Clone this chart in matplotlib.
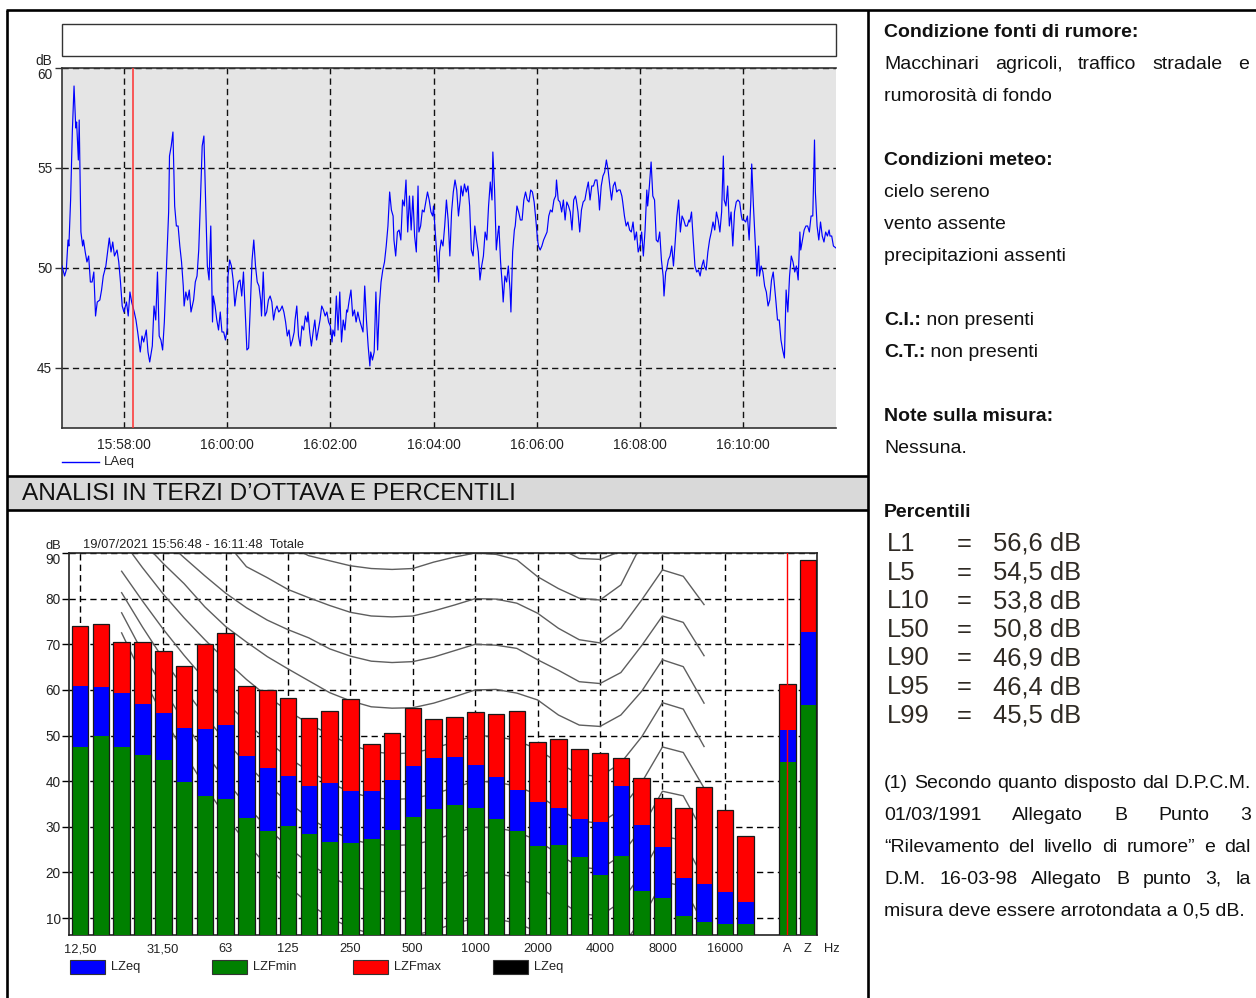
import matplotlib
matplotlib.use("Agg")
import matplotlib.pyplot as plt
from matplotlib.patches import Rectangle
from matplotlib.ticker import FuncFormatter
from datetime import datetime, timedelta

plt.rcParams['font.family'] = ['Liberation Sans', 'DejaVu Sans']
NARROW = ['Liberation Sans', 'DejaVu Sans']

# ---------------- LAeq time history (seconds after start) ----------------
start_clock = "15:56:48"
laeq_t = [
    0, 3, 5, 7, 8, 10, 12, 14, 16, 17, 19, 20, 22, 24, 25, 27, 29, 31, 33, 35,
    37, 39, 41, 44, 46, 48, 51, 53, 55, 57, 59, 61, 64, 66, 68, 70, 72, 75, 77, 79,
    81, 84, 86, 88, 91, 93, 95, 98, 100, 102, 105, 107, 109, 111, 113, 115, 117, 119, 122, 124,
    125, 127, 129, 131, 133, 135, 137, 139, 141, 142, 144, 146, 148, 150, 153, 155, 157, 159, 161, 163,
    165, 167, 169, 171, 173, 175, 176, 178, 180, 182, 184, 186, 188, 190, 192, 193, 195, 197, 199, 201,
    203, 205, 207, 209, 211, 213, 215, 217, 219, 221, 223,
    225, 227, 229, 231, 232, 234, 236, 238, 240, 242, 244, 246, 248, 250, 252, 254, 256, 258, 260, 262,
    264, 266, 268, 270, 271, 273, 275, 277, 279, 281, 283, 285, 286, 288, 290, 292, 294, 296, 298, 300,
    302, 304, 306, 308, 310, 312, 314, 315, 317, 319, 321, 323, 325, 327, 329, 331, 332, 334, 336, 338,
    340, 342, 344, 346, 348, 350, 352, 354, 356, 358, 359, 361, 363, 365, 367, 369, 371, 373, 375, 377,
    379, 381, 383, 385, 386, 388, 390, 392, 394, 396, 398, 400, 402, 404, 406, 408, 410, 412, 414, 415,
    417, 419, 421, 423, 425, 427, 429,
    431, 432, 434, 436, 438, 439, 441, 443, 445, 447, 449, 451, 453, 455, 457, 459, 461, 463, 464, 466,
    468, 470, 472, 474, 476, 478, 480, 482, 484, 486, 488, 490, 492, 494, 496, 498, 500, 501, 503, 505,
    507, 508, 510, 512, 513, 515, 517, 519, 521, 522, 524, 526, 527, 529, 531, 533, 535, 537, 539, 541,
    543, 545, 547, 549, 551, 553, 554, 556, 558, 560, 562, 564, 566, 568, 570, 572, 574, 575, 577, 579,
    581, 583, 585, 587, 589, 591, 593, 595, 597, 598, 600, 602, 604, 606, 608, 610, 612, 614, 616, 618,
    620, 622, 624, 625, 627, 629, 631, 633, 635, 637, 639, 641, 643, 645, 647, 649, 651, 652, 654, 656,
    658, 660, 662, 664, 666, 668, 670, 672, 674, 676, 678, 680, 681, 683, 685, 687, 689, 691, 693, 695,
    697, 699, 700, 702, 703, 705, 707, 709, 711, 713, 715, 717, 719, 721, 723, 725, 727, 729, 730, 732,
    734, 736, 738, 740, 742, 744, 746, 747, 749, 751, 753, 755, 757, 759, 761, 763, 765, 767, 769, 770,
    772, 774, 776, 778, 780, 782, 784, 786, 788, 790, 791, 793, 795, 797, 799, 801, 802, 804, 806, 808,
    810, 811, 813, 815, 817, 819, 821, 823, 825, 827, 829, 830, 832, 834, 836, 838, 840, 842, 844, 846,
    848, 850, 852, 854, 856, 858, 859, 861, 863, 865, 867, 869, 871, 873, 875, 876, 878, 880, 882, 884,
    886, 888, 890, 892, 893, 895, 897, 900,
]
laeq_db = [
    50.1, 49.6, 49.9, 51.4, 51.1, 53.4, 56.8, 59.1, 57.0, 57.3, 55.4, 57.4, 51.8, 51.1, 51.4, 50.8, 50.3, 50.6, 49.3, 49.3,
    49.8, 47.6, 48.3, 48.4, 48.9, 49.6, 50.1, 50.8, 51.5, 50.8, 51.3, 50.6, 50.9, 50.3, 49.3, 48.1, 47.8, 48.3, 47.6, 48.8,
    48.3, 47.8, 47.4, 46.8, 45.8, 46.6, 46.3, 46.9, 45.8, 45.3, 46.1, 48.1, 47.4, 49.8, 46.6, 46.4, 45.9, 47.3, 50.6, 52.8,
    55.6, 56.1, 56.8, 53.1, 52.1, 52.1, 51.1, 50.3, 49.1, 48.1, 48.8, 48.4, 48.9, 47.8, 48.4, 49.3, 49.6, 50.9, 53.4, 56.1,
    56.6, 53.4, 50.1, 49.4, 52.1, 47.3, 48.6, 48.1, 47.4, 46.9, 47.8, 46.8, 46.8, 46.4, 46.9, 49.6, 50.4, 50.1, 49.4, 48.1,
    48.8, 49.3, 49.4, 48.6, 49.8, 47.9, 45.9, 46.0, 48.1, 50.4, 51.4,
    50.1, 49.3, 49.1, 48.4, 47.6, 49.8, 47.6, 47.8, 48.4, 48.6, 48.3, 47.4, 47.9, 48.1, 47.8, 47.9, 48.1, 47.8, 47.3, 46.6,
    46.9, 46.1, 46.4, 46.8, 47.4, 48.1, 46.6, 46.1, 47.1, 46.9, 47.6, 47.3, 47.8, 46.8, 46.1, 46.8, 47.4, 46.4, 46.9, 47.4,
    48.1, 47.9, 47.6, 47.8, 47.3, 47.1, 46.3, 46.9, 46.6, 48.6, 46.9, 48.8, 46.3, 47.4, 46.9, 47.9, 47.8, 48.4, 48.9, 47.6,
    47.9, 47.3, 47.8, 47.4, 47.1, 46.8, 49.1, 47.4, 46.1, 45.1, 45.8, 45.4, 45.8, 48.8, 45.9, 48.1, 49.3, 49.9, 50.3, 51.1,
    52.1, 53.8, 52.9, 52.6, 51.4, 50.6, 51.8, 51.9, 51.4, 53.4, 53.1, 54.4, 51.8, 53.6, 51.9, 53.6, 51.6, 50.8, 54.1, 51.8,
    52.1, 52.9, 52.8, 53.3, 53.8, 53.4, 52.8,
    52.6, 53.1, 51.8, 50.6, 49.3, 50.8, 51.4, 51.1, 52.1, 53.4, 52.4, 50.6, 52.8, 53.8, 54.4, 53.9, 52.6, 53.4, 54.1, 53.6,
    54.2, 53.8, 54.1, 53.1, 50.9, 50.6, 52.1, 51.4, 50.8, 49.4, 50.1, 50.6, 51.8, 51.4, 53.1, 54.3, 53.4, 55.8, 53.9, 50.9,
    51.8, 52.1, 50.3, 49.1, 48.3, 49.6, 49.3, 50.1, 48.9, 47.8, 50.8, 51.9, 52.1, 53.1, 52.8, 52.4, 52.4, 53.4, 53.8, 53.4,
    53.3, 53.9, 53.8, 53.3, 52.4, 51.4, 51.1, 50.9, 51.1, 51.4, 51.6, 51.8, 52.6, 52.9, 52.8, 53.4, 53.6, 54.4, 53.4, 53.3,
    52.8, 53.4, 52.4, 53.3, 53.1, 52.8, 51.9, 53.4, 53.6, 53.4, 52.8, 51.8, 52.9, 53.3, 53.4, 53.9, 54.3, 53.4, 54.1, 54.1,
    54.4, 54.4, 53.6, 52.9, 54.1, 54.6, 54.8, 55.4, 54.9, 54.1, 53.4, 54.1, 54.3, 53.8, 53.9, 53.9, 53.6, 53.3, 52.6, 52.1,
    52.3, 51.9, 51.8, 52.3, 51.4, 51.8, 50.8, 51.1, 51.8, 50.6, 51.9, 53.9, 53.1, 54.1, 55.3, 53.6, 53.4, 51.4, 51.3, 51.8,
    50.4, 49.6, 48.6, 49.8, 49.9, 50.4, 50.6, 51.1, 50.1, 51.3, 52.6, 53.4, 51.8, 52.6, 52.4, 52.1, 52.1, 52.4, 52.3, 52.8,
    51.4, 50.1, 49.8, 49.9, 49.6, 50.1, 50.4, 50.1, 49.9, 50.8, 51.4, 51.8, 52.3, 51.9, 52.8, 52.4, 51.8, 52.8, 55.6, 53.4,
    53.1, 54.1, 52.1, 52.8, 51.1, 52.8, 53.3, 53.4, 53.3, 52.6, 52.4, 52.4, 52.3, 52.6, 51.4, 53.4, 55.2, 53.1, 51.3, 49.6,
    51.1, 49.6, 50.1, 49.8, 49.1, 48.8, 48.1, 48.4, 49.4, 49.8, 48.9, 48.4, 47.4, 47.4, 46.4, 45.9, 45.5, 48.9, 47.8, 49.6,
    50.6, 50.3, 49.8, 50.1, 49.4, 51.8, 50.9, 51.4, 51.9, 52.1, 52.1, 51.8, 52.6, 52.6, 56.4, 53.8, 52.1, 51.4, 52.3, 51.6,
    51.3, 51.8, 51.6, 51.9, 51.6, 51.6, 51.1, 51.0,
]
cursor_t = 82

# ---------------- third-octave spectrum ----------------
band_labels = ['12,50', '16', '20', '25', '31,50', '40', '50', '63', '80', '100', '125', '160',
               '200', '250', '315', '400', '500', '630', '800', '1000', '1250', '1600', '2000',
               '2500', '3150', '4000', '5000', '6300', '8000', '10000', '12500', '16000', '20000',
               'A', 'Z']
shown_labels = ['12,50', '31,50', '63', '125', '250', '500', '1000', '2000', '4000', '8000',
                '16000', 'A', 'Z']
lzfmax = [73.9, 74.4, 70.5, 70.5, 68.5, 65.3, 70.0, 72.4, 60.8, 59.9, 58.3, 53.8, 55.4, 58.0,
          48.1, 50.6, 56.1, 53.6, 54.1, 55.2, 54.7, 55.4, 48.5, 49.3, 47.1, 46.1, 45.0, 40.6,
          36.4, 34.1, 38.7, 33.7, 28.1, 61.3, 88.5]
lzeq = [60.9, 60.7, 59.3, 57.0, 55.0, 51.6, 51.4, 52.3, 45.6, 42.8, 41.2, 39.0, 39.5, 37.9,
        37.9, 40.3, 43.3, 45.1, 45.2, 43.5, 40.9, 38.1, 35.4, 34.2, 31.7, 31.1, 39.0, 30.5,
        25.6, 18.8, 17.5, 15.7, 13.6, 51.2, 72.7]
lzfmin = [47.6, 49.8, 47.4, 45.8, 44.7, 39.9, 36.8, 36.0, 32.0, 29.1, 30.1, 28.4, 26.7, 26.5,
          27.4, 29.2, 32.2, 33.8, 34.7, 34.2, 31.8, 29.1, 25.9, 26.1, 23.4, 19.5, 23.7, 15.9,
          14.3, 10.5, 9.1, 8.7, 8.8, 44.1, 56.7]

# equal-loudness curves, 20 Hz .. 12500 Hz
curve_first, curve_last = '20', '12500'
phon_10 = [72.5, 63.0, 54.2, 46.2, 38.9, 32.3, 26.5, 21.4, 17.0, 13.2, 10.1, 7.9, 6.6, 6.0, 6.2,
           7.3, 8.8, 10.0, 9.8, 8.9, 7.0, 4.0, 1.0, 0.5, 3.5, 9.7, 18.0, 17.0, 8.5]
phon_20 = [76.9, 68.3, 60.3, 53.0, 46.3, 40.2, 34.7, 29.8, 25.6, 22.0, 19.1, 17.0, 16.0, 15.7,
           16.0, 17.0, 18.5, 20.0, 19.8, 18.9, 17.0, 14.0, 11.0, 10.5, 13.5, 19.7, 28.0, 27.0, 18.5]
phon_30 = [81.3, 73.8, 66.8, 60.3, 54.3, 48.8, 43.8, 39.3, 35.4, 32.0, 29.3, 27.3, 26.2, 25.9,
           26.1, 27.1, 28.6, 30.0, 29.8, 28.9, 27.0, 24.0, 21.2, 20.7, 23.7, 29.7, 37.8, 36.8, 28.5]
phon_40 = [86.0, 79.5, 73.3, 67.6, 62.3, 57.4, 52.9, 48.8, 45.2, 42.2, 39.7, 37.6, 36.4, 36.0,
           36.2, 37.2, 38.6, 40.0, 39.8, 38.9, 37.0, 34.0, 31.3, 30.8, 33.8, 39.7, 47.5, 46.3, 38.5]
phon_50 = [93.0, 86.8, 81.0, 75.8, 71.0, 66.5, 62.3, 58.6, 55.4, 52.6, 50.2, 48.0, 46.5, 46.0,
           46.2, 47.2, 48.6, 50.0, 49.8, 48.9, 47.0, 44.0, 41.5, 41.0, 44.0, 49.7, 57.2, 55.8, 47.6]
phon_60 = [100.0, 92.5, 87.7, 83.3, 78.2, 73.9, 70.5, 67.3, 64.6, 62.0, 59.4, 57.6, 56.3, 56.0,
           56.1, 57.1, 58.5, 60.0, 60.1, 59.3, 57.8, 54.5, 52.3, 52.0, 54.5, 59.7, 66.6, 65.1, 57.1]
phon_70 = [110.0, 100.0, 93.2, 89.0, 85.0, 81.2, 78.0, 75.3, 73.2, 71.4, 69.0, 67.4, 66.3, 66.0,
           66.2, 67.2, 68.6, 70.0, 69.8, 69.1, 66.6, 64.3, 61.8, 61.4, 63.8, 69.7, 76.2, 74.8, 67.5]
phon_80 = [120.0, 112.0, 105.0, 99.0, 95.5, 92.5, 87.0, 84.6, 82.0, 80.2, 78.5, 77.0, 76.2, 76.0,
           76.2, 77.3, 78.6, 80.0, 79.9, 79.0, 76.8, 73.5, 71.0, 70.3, 73.5, 79.7, 86.3, 84.9, 78.7]
phon_90 = [130.0, 125.0, 120.0, 115.0, 110.0, 105.0, 100.0, 96.0, 91.6, 89.4, 88.3, 87.2, 86.6,
           86.4, 86.6, 88.0, 89.1, 90.0, 89.7, 88.5, 84.8, 82.2, 80.1, 79.7, 83.0, 92.0, 97.0, 96.0, 92.0]
phon_100 = [140.0, 135.0, 130.0, 125.0, 120.0, 115.0, 110.0, 106.0, 102.0, 99.5, 98.3, 97.2, 96.6,
            96.4, 96.6, 98.0, 99.1, 100.0, 99.7, 98.5, 94.8, 91.2, 88.8, 88.6, 90.4, 101.0, 107.0, 106.0, 102.0]
loudness_curves = [phon_10, phon_20, phon_30, phon_40, phon_50, phon_60, phon_70, phon_80, phon_90, phon_100]

# ---------------- percentiles ----------------
perc_names = ['L1', 'L5', 'L10', 'L50', 'L90', 'L95', 'L99']
perc_values = [56.6, 54.5, 53.8, 50.8, 46.9, 46.4, 45.5]

W, H = 1256, 998
fig = plt.figure(figsize=(W / 100, H / 100), dpi=100)
renderer = fig.canvas.get_renderer()

# page layer, one unit = one pixel, y downwards
pg = fig.add_axes([0, 0, 1, 1])
pg.set_xlim(0, W)
pg.set_ylim(H, 0)
pg.axis('off')


def text_width(txt, **kw):
    t = pg.text(0, 0, txt, **kw)
    w = t.get_window_extent(renderer).width
    t.remove()
    return w


def fit_size(txt, target, family, weight='normal', base=12.0):
    return base * target / text_width(txt, fontsize=base, family=family, weight=weight)


def justified(words, x0, x1, y, **kw):
    objs = [pg.text(x0, y, w, va='baseline', **kw) for w in words]
    widths = [o.get_window_extent(renderer).width for o in objs]
    gap = (x1 - x0 - sum(widths)) / (len(words) - 1)
    x = x0
    for o, w in zip(objs, widths):
        o.set_x(x)
        x += w + gap


# table frame
frame_lw = 1.9
pg.add_patch(Rectangle((7, 476), 861, 34, facecolor='#d9d9d9', edgecolor='none'))
pg.plot([6, W], [10, 10], color='k', lw=frame_lw, solid_capstyle='butt')
pg.plot([7, 7], [10, H], color='k', lw=frame_lw, solid_capstyle='butt')
pg.plot([868, 868], [10, H], color='k', lw=frame_lw, solid_capstyle='butt')
pg.plot([7, 868], [476, 476], color='k', lw=frame_lw, solid_capstyle='butt')
pg.plot([7, 868], [510, 510], color='k', lw=frame_lw, solid_capstyle='butt')

hdr = 'ANALISI IN TERZI D\u2019OTTAVA E PERCENTILI'
pg.text(22, 494, hdr, va='center', family=NARROW, color='#111111',
        fontsize=fit_size(hdr, 495, NARROW))

# ---------------- top chart: LAeq vs time ----------------
pg.add_patch(Rectangle((62, 24), 774, 32, facecolor='white', edgecolor='#333333', lw=1))

t0 = datetime.strptime(start_clock, "%H:%M:%S")
ax1 = fig.add_axes([62 / W, 1 - 428 / H, 774 / W, 360 / H])
ax1.set_facecolor('#e5e5e5')
ax1.plot(laeq_t, laeq_db, color='#0000ff', lw=0.85, zorder=3)
ax1.axvline(cursor_t, color='#ff3030', lw=1.1, zorder=4)
ax1.set_xlim(0, 900)
ax1.set_ylim(42, 60)
ax1.set_xticks(range(72, 900, 120))
ax1.xaxis.set_major_formatter(FuncFormatter(
    lambda v, p: (t0 + timedelta(seconds=float(v))).strftime('%H:%M:%S')))
ax1.set_yticks([45, 50, 55, 60])
ax1.set_yticklabels(['45', '50', '55', ''])
ax1.grid(True, color='#111111', ls=(0, (4.5, 3)), lw=1)
ax1.tick_params(axis='x', length=0, pad=7, labelsize=10, labelcolor='#222222')
ax1.tick_params(axis='y', length=5, width=1, color='#333333', pad=2, labelsize=9.8,
                labelcolor='#222222')
for s in ['top', 'left', 'bottom']:
    ax1.spines[s].set_color('#333333')
    ax1.spines[s].set_linewidth(1.2)
ax1.spines['right'].set_visible(False)
ax1.annotate('60', xy=(0, 60), xycoords=('axes fraction', 'data'), xytext=(-10, -7),
             textcoords='offset pixels', ha='right', va='center', fontsize=9.8, color='#222222')
ax1.annotate('dB', xy=(0, 60), xycoords=('axes fraction', 'data'), xytext=(-10, 7),
             textcoords='offset pixels', ha='right', va='center', fontsize=9.8, color='#222222')

pg.plot([62, 99], [462, 462], color='#0000ff', lw=1)
pg.text(104, 462, 'LAeq', va='center', fontsize=9.5, color='#222222')

# ---------------- bottom chart: third-octave bars ----------------
pos = list(range(33)) + [34, 35]
i0, i1 = band_labels.index(curve_first), band_labels.index(curve_last)
curve_x = pos[i0:i1 + 1]

ax2 = fig.add_axes([69 / W, 1 - 935 / H, 748 / W, 382 / H])
ax2.set_xlim(-0.53, 35.43)
ax2.set_ylim(6.3, 90)
for c in loudness_curves:
    ax2.plot(curve_x, c, color='#5e5e5e', lw=1.0, zorder=1)

ax2.bar(pos, lzfmax, width=0.8, color='#ff0000', zorder=3)
ax2.bar(pos, lzeq, width=0.8, color='#0000ff', zorder=3)
ax2.bar(pos, lzfmin, width=0.8, color='#008000', zorder=3)
ax2.bar(pos, lzfmax, width=0.8, fill=False, edgecolor='#1a1a1a', lw=0.9, zorder=4)

ax2.set_yticks(range(10, 91, 10))
ax2.set_yticklabels([str(v) for v in range(10, 90, 10)] + [''])
ax2.yaxis.grid(True, color='black', ls=(0, (4.5, 3)), lw=1, zorder=0)
ax2.set_axisbelow(True)
tick_pos = [pos[band_labels.index(s)] for s in shown_labels]
for p, s in zip(tick_pos, shown_labels):
    if s not in ('A', 'Z'):
        ax2.axvline(p, color='black', ls=(0, (4.5, 3)), lw=1, zorder=0.5)
ax2.axvline(pos[band_labels.index('A')], color='#ff0000', lw=1, zorder=6)
ax2.set_xticks(tick_pos)
ax2.set_xticklabels(shown_labels)
ax2.tick_params(axis='x', length=0, pad=6, labelsize=9.3, labelcolor='#222222')
ax2.tick_params(axis='y', length=5, width=1, pad=1, labelsize=9.8, labelcolor='#222222')
for s in ax2.spines.values():
    s.set_color('#222222')
    s.set_linewidth(1.2)
ax2.annotate('90', xy=(0, 90), xycoords=('axes fraction', 'data'), xytext=(-8, -7),
             textcoords='offset pixels', ha='right', va='center', fontsize=9.8, color='#222222')
ax2.annotate('dB', xy=(0, 90), xycoords=('axes fraction', 'data'), xytext=(-8, 7),
             textcoords='offset pixels', ha='right', va='center', fontsize=9.3, color='#222222')
ax2.annotate('19/07/2021 15:56:48 - 16:11:48  Totale', xy=(0, 90),
             xycoords=('axes fraction', 'data'), xytext=(14, 8), textcoords='offset pixels',
             ha='left', va='center', fontsize=9.3, color='#222222')
ax2.annotate('Hz', xy=(1, 0), xycoords='axes fraction', xytext=(7, -14),
             textcoords='offset pixels', ha='left', va='center', fontsize=9.3, color='#222222')

legend_items = [('LZeq', '#0000ff', 70), ('LZFmin', '#008000', 212),
                ('LZFmax', '#ff0000', 353), ('LZeq', '#000000', 493)]
for name, col, lx in legend_items:
    pg.add_patch(Rectangle((lx, 960), 35, 14, facecolor=col, edgecolor='#333333', lw=0.8))
    pg.text(lx + 41, 967, name, va='center', fontsize=9.3, color='#222222')

# ---------------- right column notes ----------------
tx0, tx1 = 884, 1249
fs = fit_size('rumorosit\u00e0 di fondo', 168, NARROW)
ink = '#111111'


def line(y, txt, bold=False):
    pg.text(tx0, y, txt, va='baseline', family=NARROW, fontsize=fs,
            weight='bold' if bold else 'normal', color=ink)


def bold_lead(y, lead, rest):
    w = text_width(lead, family=NARROW, fontsize=fs, weight='bold')
    pg.text(tx0, y, lead, va='baseline', family=NARROW, fontsize=fs, weight='bold', color=ink)
    pg.text(tx0 + w, y, rest, va='baseline', family=NARROW, fontsize=fs, color=ink)


line(37, 'Condizione fonti di rumore:', bold=True)
justified(['Macchinari', 'agricoli,', 'traffico', 'stradale', 'e'], tx0, tx1, 69,
          family=NARROW, fontsize=fs, color=ink)
line(101, 'rumorosit\u00e0 di fondo')
line(165, 'Condizioni meteo:', bold=True)
line(197, 'cielo sereno')
line(229, 'vento assente')
line(261, 'precipitazioni assenti')
bold_lead(325, 'C.I.:', ' non presenti')
bold_lead(357, 'C.T.:', ' non presenti')
line(421, 'Note sulla misura:', bold=True)
line(453, 'Nessuna.')
line(517, 'Percentili', bold=True)

pfs = fit_size('56,6 dB', 88, ['Liberation Sans', 'DejaVu Sans'])
pcol = '#2f2a24'
for k, (nm, v) in enumerate(zip(perc_names, perc_values)):
    yb = 551 + k * 28.6
    pg.text(887, yb, nm, va='baseline', fontsize=pfs, color=pcol)
    pg.text(964, yb, '=', va='baseline', ha='center', fontsize=pfs, color=pcol)
    pg.text(993, yb, f'{v:.1f}'.replace('.', ',') + ' dB', va='baseline', fontsize=pfs,
            color=pcol)

fx1 = 1251
justified('(1) Secondo quanto disposto dal D.P.C.M.'.split(), tx0, fx1, 788,
          family=NARROW, fontsize=fs, color=ink)
justified('01/03/1991 Allegato B Punto 3'.split(), tx0, fx1, 820,
          family=NARROW, fontsize=fs, color=ink)
justified('\u201cRilevamento del livello di rumore\u201d e dal'.split(), tx0, fx1, 852,
          family=NARROW, fontsize=fs, color=ink)
justified('D.M. 16-03-98 Allegato B punto 3, la'.split(), tx0, fx1, 884,
          family=NARROW, fontsize=fs, color=ink)
line(916, 'misura deve essere arrotondata a 0,5 dB.')

fig.savefig('out.png', dpi=100)
